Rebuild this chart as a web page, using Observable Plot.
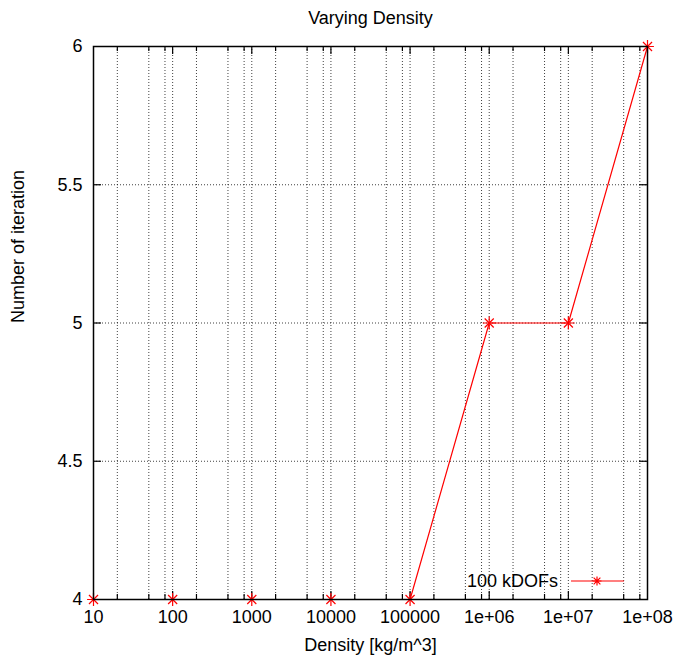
<!DOCTYPE html>
<html>
<head>
<meta charset="utf-8">
<script src="https://cdn.jsdelivr.net/npm/d3@7"></script>
<script src="https://cdn.jsdelivr.net/npm/@observablehq/plot@0.6"></script>
<style>
  html, body { margin: 0; padding: 0; background: #fff; }
  svg { display: block; }
</style>
</head>
<body>
<div id="chart"></div>
<script>
// ---- data ----
const density = [10, 100, 1000, 10000, 100000, 1e6, 1e7, 1e8];
const iterations = [4, 4, 4, 4, 4, 5, 5, 6];
const seriesName = "100 kDOFs";

// ---- ticks ----
const xMajorTicks = [10, 100, 1000, 10000, 100000, 1e6, 1e7, 1e8];
const xTickLabels = ["10", "100", "1000", "10000", "100000", "1e+06", "1e+07", "1e+08"];
const minorMultipliers = [2, 5, 8];
const yTicks = [4, 4.5, 5, 5.5, 6];
const yTickLabels = ["4", "4.5", "5", "5.5", "6"];

const titleText = "Varying Density";
const xLabelText = "Density [kg/m^3]";
const yLabelText = "Number of iteration";

// ---- layout ----
const W = 678, H = 660;
const mL = 93, mR = 31, mT = 46, mB = 61;
const plotH = H - mT - mB;
const font = "'Liberation Sans', Arial, sans-serif";
const fs = 18;

const data = density.map((d, i) => ({x: d, y: iterations[i]}));
const xMinor = xMajorTicks.slice(0, -1).flatMap(d => minorMultipliers.map(m => d * m));
const xInnerMajor = xMajorTicks.slice(1, -1);
const yInner = yTicks.slice(1, -1);

function legend(index, scales, values, dims) {
  const g = d3.create("svg:g");
  const xr = dims.width - dims.marginRight;
  const yb = dims.height - dims.marginBottom;
  const ly = yb - 18;
  g.append("text")
    .attr("x", xr - 89).attr("y", ly).attr("dy", "0.35em")
    .attr("text-anchor", "end")
    .attr("font-family", font).attr("font-size", fs)
    .attr("fill", "#000")
    .text(seriesName);
  g.append("line")
    .attr("x1", xr - 76).attr("x2", xr - 23)
    .attr("y1", ly).attr("y2", ly)
    .attr("stroke", "#f00").attr("stroke-width", 1.2);
  const cx = xr - 50, r = 4.5;
  const p = `M${cx - r},${ly}H${cx + r}M${cx},${ly - r}V${ly + r}` +
            `M${cx - r * 0.75},${ly - r * 0.75}L${cx + r * 0.75},${ly + r * 0.75}` +
            `M${cx - r * 0.75},${ly + r * 0.75}L${cx + r * 0.75},${ly - r * 0.75}`;
  g.append("path").attr("d", p).attr("stroke", "#f00").attr("stroke-width", 1.2).attr("fill", "none");
  return g.node();
}

const chart = Plot.plot({
  width: W,
  height: H,
  marginLeft: mL,
  marginRight: mR,
  marginTop: mT,
  marginBottom: mB,
  style: {fontFamily: font, fontSize: fs + "px", background: "#fff", color: "#000"},
  x: {type: "log", domain: [10, 1e8]},
  y: {domain: [4, 6]},
  marks: [
    // dotted grid
    Plot.ruleX([...xMinor, ...xInnerMajor], {stroke: "#000", strokeOpacity: 0.75, strokeDasharray: "1,2", strokeWidth: 1}),
    Plot.ruleY(yInner, {stroke: "#000", strokeOpacity: 0.75, strokeDasharray: "1,2", strokeWidth: 1}),
    // inward ticks, bottom and top
    Plot.tickX(xInnerMajor, {stroke: "#000", strokeWidth: 1.2, insetTop: plotH - 8}),
    Plot.tickX(xInnerMajor, {stroke: "#000", strokeWidth: 1.2, insetBottom: plotH - 8}),
    Plot.tickX(xMinor, {stroke: "#000", strokeWidth: 1.2, insetTop: plotH - 5}),
    Plot.tickX(xMinor, {stroke: "#000", strokeWidth: 1.2, insetBottom: plotH - 5}),
    // inward ticks, left and right
    Plot.tickY(yInner, {stroke: "#000", strokeWidth: 1.2, insetRight: W - mL - mR - 8}),
    Plot.tickY(yInner, {stroke: "#000", strokeWidth: 1.2, insetLeft: W - mL - mR - 8}),
    // axes labels
    Plot.axisX({ticks: xMajorTicks, tickFormat: (d, i) => xTickLabels[xMajorTicks.indexOf(d)], tickSize: 0, tickPadding: 11, label: null, fontSize: fs}),
    Plot.axisY({ticks: yTicks, tickFormat: d => yTickLabels[yTicks.indexOf(d)], tickSize: 0, tickPadding: 11, label: null, fontSize: fs}),
    // data
    Plot.line(data, {x: "x", y: "y", stroke: "#f00", strokeWidth: 1.2}),
    Plot.dot(data, {x: "x", y: "y", symbol: "plus", r: 4.2, stroke: "#f00", strokeWidth: 1.2}),
    Plot.dot(data, {x: "x", y: "y", symbol: "times", r: 4.2, stroke: "#f00", strokeWidth: 1.2}),
    // frame
    Plot.frame({stroke: "#000", strokeWidth: 1.5}),
    // titles
    Plot.text([titleText], {frameAnchor: "top", dy: -28, fontSize: fs, fill: "#000", lineAnchor: "middle"}),
    Plot.text([xLabelText], {frameAnchor: "bottom", dy: 46, fontSize: fs, fill: "#000", lineAnchor: "middle"}),
    Plot.text([yLabelText], {frameAnchor: "left", dx: -75, rotate: -90, fontSize: fs, fill: "#000", lineAnchor: "middle"}),
    legend
  ]
});

document.getElementById("chart").appendChild(chart);
</script>
</body>
</html>
